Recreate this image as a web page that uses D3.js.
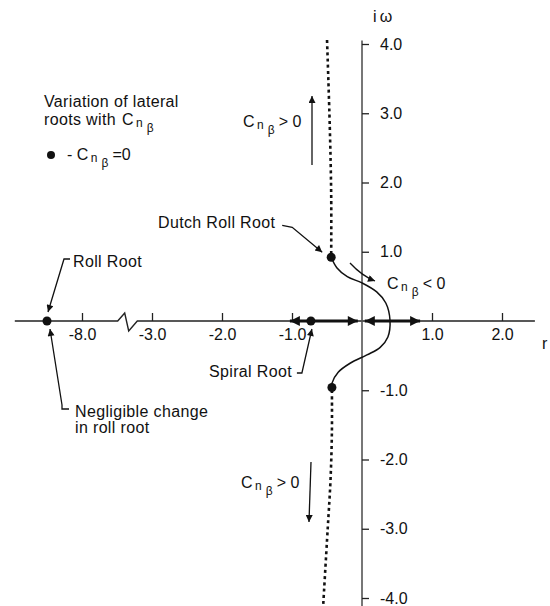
<!DOCTYPE html>
<html>
<head>
<meta charset="utf-8">
<script src="https://cdn.jsdelivr.net/npm/d3@7"></script>
<style>
  body { margin: 0; background: #fff; }
  svg text { font-family: 'Liberation Sans', Arial, Helvetica, sans-serif; font-size: 16px; fill: #111; }
  svg text.label { letter-spacing: 0.35px; }
</style>
</head>
<body>
<div id="chart"></div>
<script>
var xTicks = [-8, -3, -2, -1, 1, 2];
var yTicks = [4, 3, 2, 1, -1, -2, -3, -4];
var rollRoot = [-8.5, 0];
var spiralRoot = [-0.73, 0];
var dutchRoots = [[-0.44, 0.92], [-0.43, -0.96]];
// dutch roll locus for Cn_beta < 0
var negLocus = [
  [-0.44, 0.92], [-0.36, 0.77], [-0.21, 0.64], [0, 0.55], [0.21, 0.42],
  [0.34, 0.26], [0.4, 0.01], [0.37, -0.23], [0.26, -0.38], [0.07, -0.49],
  [-0.17, -0.61], [-0.34, -0.74], [-0.43, -0.9], [-0.43, -0.96]
];
// dutch roll locus for Cn_beta > 0 (dotted)
var posLocusUp = [[-0.44, 0.97], [-0.44, 1.8], [-0.46, 2.8], [-0.5, 4.07]];
var posLocusDown = [[-0.43, -1.0], [-0.43, -1.6], [-0.45, -2.3], [-0.49, -3.0], [-0.56, -4.2]];
// real root travel (double headed arrows on the real axis)
var realArrows = [[-1.03, -0.06], [0.04, 0.83]];

(function createLocus() {
  var width = 550, height = 606;

  // broken real axis: -9 .. -7.5, then -3.2 .. 2.6
  var breakL = -7.49, breakR = -3.21;
  var x = d3.scaleLinear()
    .domain([-9.05, breakL, breakR, 2.6])
    .range([8.5, 82 + 70 * (breakL + 8), 362 + 70 * breakR, 544]);
  var y = d3.scaleLinear().domain([-4, 4]).range([598, 44]);

  var svg = d3.select('#chart').append('svg')
    .attr('width', width)
    .attr('height', height);

  var defs = svg.append('defs');
  function marker(id, w, h) {
    defs.append('marker')
      .attr('id', id)
      .attr('viewBox', '0 0 10 10')
      .attr('refX', 10).attr('refY', 5)
      .attr('markerUnits', 'userSpaceOnUse')
      .attr('markerWidth', w).attr('markerHeight', h)
      .attr('orient', 'auto-start-reverse')
      .append('path')
        .attr('d', 'M0,0L10,5L0,10z')
        .style('fill', '#111');
  }
  marker('head', 10, 7);
  marker('bighead', 12, 10);

  var x0 = x(0), y0 = y(0);

  // real axis with break
  var xl = x(breakL), xr = x(breakR);
  svg.append('path')
    .attr('d', 'M' + x(-8.96) + ',' + y0 + 'L' + xl + ',' + y0 +
      'L' + (xl + 7) + ',' + (y0 - 8) + 'L' + (xl + 11) + ',' + (y0 + 10) +
      'L' + xr + ',' + y0 + 'L' + x(2.47) + ',' + y0)
    .style('fill', 'none')
    .style('stroke', '#222')
    .style('stroke-width', 1.4);

  // imaginary axis
  svg.append('line')
    .attr('x1', x0).attr('x2', x0)
    .attr('y1', y(4.05)).attr('y2', height)
    .style('stroke', '#555')
    .style('stroke-width', 1.6);

  var fmt = function(d) { return d.toFixed(1); };

  var gx = svg.append('g')
    .attr('transform', 'translate(0,' + y0 + ')')
    .call(d3.axisBottom(x).tickValues(xTicks).tickFormat(fmt)
      .tickSizeInner(-8).tickSizeOuter(0).tickPadding(8));
  gx.select('.domain').remove();

  var gy = svg.append('g')
    .attr('transform', 'translate(' + x0 + ',0)')
    .call(d3.axisRight(y).tickValues(yTicks).tickFormat(fmt)
      .tickSizeInner(7).tickSizeOuter(0).tickPadding(11));
  gy.select('.domain').remove();

  svg.selectAll('.tick line').style('stroke', '#222').style('stroke-width', 1.3);
  svg.selectAll('.tick text')
    .style('font-family', "'Liberation Sans', Arial, sans-serif")
    .style('font-size', '16px')
    .style('fill', '#111');

  svg.append('text').attr('x', 373).attr('y', 22).text('i\u2009\u03c9');
  svg.append('text').attr('x', 542).attr('y', 349).text('r');

  var line = d3.line()
    .x(function(d) { return x(d[0]); })
    .y(function(d) { return y(d[1]); })
    .curve(d3.curveCatmullRom);

  // dotted locus (Cn_beta > 0)
  svg.selectAll('.posLocus')
    .data([posLocusUp, posLocusDown])
    .enter().append('path')
      .attr('class', 'posLocus')
      .attr('d', line)
      .style('fill', 'none')
      .style('stroke', '#111')
      .style('stroke-width', 2.6)
      .style('stroke-dasharray', '3,3.2');

  // solid locus (Cn_beta < 0)
  svg.append('path')
    .attr('d', line(negLocus))
    .style('fill', 'none')
    .style('stroke', '#111')
    .style('stroke-width', 1.5);

  // thick arrows along the real axis
  svg.selectAll('.realArrow')
    .data(realArrows)
    .enter().append('line')
      .attr('class', 'realArrow')
      .attr('x1', function(d) { return x(d[0]); })
      .attr('x2', function(d) { return x(d[1]); })
      .attr('y1', y0).attr('y2', y0)
      .style('stroke', '#111')
      .style('stroke-width', 3.2)
      .attr('marker-start', 'url(#bighead)')
      .attr('marker-end', 'url(#bighead)');

  // roots
  svg.selectAll('.root')
    .data([rollRoot, spiralRoot].concat(dutchRoots))
    .enter().append('circle')
      .attr('class', 'root')
      .attr('cx', function(d) { return x(d[0]); })
      .attr('cy', function(d) { return y(d[1]); })
      .attr('r', 4.5)
      .style('fill', '#111');

  // annotation helpers
  function leader(pts) {
    svg.append('path')
      .attr('d', 'M' + pts.join('L'))
      .style('fill', 'none')
      .style('stroke', '#111')
      .style('stroke-width', 1.3)
      .attr('marker-end', 'url(#head)');
  }
  function label(px, py, str) {
    svg.append('text').attr('class', 'label').attr('x', px).attr('y', py).text(str);
  }
  function cnBeta(px, py, prefix, tail) {
    var t = svg.append('text').attr('x', px).attr('y', py);
    if (prefix) t.append('tspan').text(prefix);
    t.append('tspan').text('C');
    t.append('tspan').attr('dx', 2.5).attr('dy', 2).style('font-size', '12px').text('n');
    t.append('tspan').attr('dx', 4).attr('dy', 5).style('font-size', '12px').text('\u03b2');
    if (tail) t.append('tspan').attr('dx', 4).attr('dy', -7).text(tail);
  }

  var rx = x(rollRoot[0]), ry = y(rollRoot[1]);
  label(73, 267, 'Roll Root');
  leader([[rx + 23, ry - 62], [rx + 17, ry - 62], [rx + 1, ry - 9]]);
  label(75, 417, 'Negligible change');
  label(75, 433, 'in roll root');
  leader([[rx + 22, ry + 88], [rx + 15, ry + 88], [rx + 15, ry + 84], [rx + 3, ry + 8]]);

  var dx = x(dutchRoots[0][0]), dy = y(dutchRoots[0][1]);
  label(158, 228, 'Dutch Roll Root');
  leader([[dx - 49, dy - 32], [dx - 39, dy - 30], [dx - 9, dy - 5]]);

  var sx = x(spiralRoot[0]), sy = y(spiralRoot[1]);
  label(209, 377, 'Spiral Root');
  leader([[sx - 14, sy + 52], [sx - 9, sy + 52], [sx + 1, sy + 8]]);

  // Cn_beta < 0 curved pointer
  svg.append('path')
    .attr('d', 'M350,263Q362,276 375,281')
    .style('fill', 'none')
    .style('stroke', '#111')
    .style('stroke-width', 1.3)
    .attr('marker-end', 'url(#head)');
  cnBeta(387, 289, null, '< 0');

  // Cn_beta > 0 arrows
  cnBeta(243, 127, null, '> 0');
  leader([[312, 165], [312, 96]]);
  cnBeta(241, 488, null, '> 0');
  leader([[311, 462], [309, 522]]);

  // legend
  label(44, 107, 'Variation of lateral');
  label(44, 125, 'roots with');
  cnBeta(122, 125, null, null);
  svg.append('circle').attr('cx', 51).attr('cy', 155).attr('r', 4).style('fill', '#111');
  cnBeta(67, 160, '- ', '=0');
}());
</script>
</body>
</html>
